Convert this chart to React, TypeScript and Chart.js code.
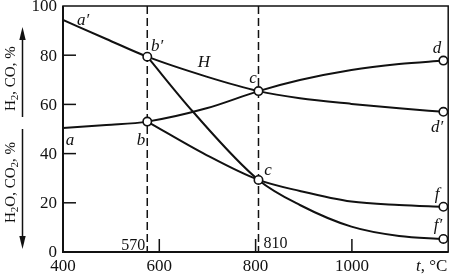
import { useEffect, useRef } from 'react';
import { Chart, registerables } from 'chart.js';
Chart.register(...registerables);

const W = 454, H = 274;
const tMin = 400, tMax = 1200;
const yMin = 0, yMax = 100;
const yTicks = [0, 20, 40, 60, 80, 100];
const xTicks = [400, 600, 800, 1000];

// a'–b'–c–d' (H curve)
const hT = [400, 490, 575, 698, 806, 892, 999, 1098, 1190];
const hV = [94.3, 86.6, 79.4, 71.3, 65.4, 62.5, 60.2, 58.4, 57.0];
// a–b–c–d
const aT = [400, 490, 575, 698, 806, 892, 999, 1098, 1190];
const aV = [50.4, 51.6, 53.0, 58.4, 65.4, 69.9, 74.0, 76.4, 77.8];
// b'–c–f'
const bpT = [575, 670, 806, 892, 999, 1098, 1190];
const bpV = [79.4, 57.0, 29.3, 19.1, 10.3, 6.5, 5.3];
// b–c–f
const bT = [575, 698, 806, 892, 999, 1098, 1190];
const bV = [53.0, 39.4, 29.3, 24.8, 20.5, 19.1, 18.4];

// marked points
const markT = [575, 575, 806, 806, 1190, 1190, 1190, 1190];
const markV = [79.4, 53.0, 65.4, 29.3, 77.8, 57.0, 18.4, 5.3];

// vertical guides
const guideT = [575, 806];
const guideLabels = ['570', '810'];

const INK = '#111';
const SERIF = "'Liberation Serif', 'DejaVu Serif', serif";

const pts = (t: number[], v: number[]) => t.map((x, i) => ({ x, y: v[i] }));

const lineDs = (t: number[], v: number[]) => ({
  data: pts(t, v),
  showLine: true,
  borderColor: INK,
  borderWidth: 2,
  pointRadius: 0,
  pointHoverRadius: 0,
  tension: 0.4,
  cubicInterpolationMode: 'monotone' as const,
  fill: false,
});

function drawSubText(ctx: CanvasRenderingContext2D, parts: [string, boolean][], size: number) {
  let x = 0;
  for (const [s, sub] of parts) {
    const fs = sub ? Math.round(size * 0.7) : size;
    ctx.font = `${fs}px ${SERIF}`;
    ctx.fillText(s, x, sub ? 3 : 0);
    x += ctx.measureText(s).width;
  }
}

const deco = {
  id: 'deco',
  beforeDatasetsDraw(chart: any) {
    const { ctx, chartArea: a, scales } = chart;
    const x = scales.x;
    ctx.save();
    ctx.strokeStyle = INK;
    ctx.lineWidth = 1.5;
    ctx.setLineDash([8, 4]);
    for (const t of guideT) {
      const px = x.getPixelForValue(t);
      ctx.beginPath();
      ctx.moveTo(px, a.top);
      ctx.lineTo(px, a.bottom);
      ctx.stroke();
    }
    ctx.restore();
  },
  afterDatasetsDraw(chart: any) {
    const { ctx, chartArea: a, scales } = chart;
    const x = scales.x, y = scales.y;
    ctx.save();
    ctx.strokeStyle = INK;
    ctx.fillStyle = INK;
    ctx.setLineDash([]);
    // frame
    ctx.lineWidth = 1.5;
    ctx.strokeRect(a.left, a.top, a.right - a.left, a.bottom - a.top);
    ctx.lineWidth = 2;
    ctx.beginPath();
    ctx.moveTo(a.left, a.top);
    ctx.lineTo(a.left, a.bottom);
    ctx.lineTo(a.right, a.bottom);
    ctx.stroke();
    // inner ticks
    ctx.lineWidth = 1.5;
    for (const v of yTicks) {
      if (v === yMin || v === yMax) continue;
      const py = y.getPixelForValue(v);
      ctx.beginPath();
      ctx.moveTo(a.left, py);
      ctx.lineTo(a.left + 13, py);
      ctx.stroke();
    }
    for (const t of xTicks) {
      if (t === tMin) continue;
      const px = x.getPixelForValue(t);
      ctx.beginPath();
      ctx.moveTo(px, a.bottom);
      ctx.lineTo(px, a.bottom - 13);
      ctx.stroke();
    }
    // tick labels
    ctx.font = `17px ${SERIF}`;
    ctx.textAlign = 'right';
    ctx.textBaseline = 'middle';
    for (const v of yTicks) {
      ctx.fillText(String(v), a.left - 6, y.getPixelForValue(v) + 1);
    }
    ctx.textAlign = 'center';
    ctx.textBaseline = 'alphabetic';
    for (const t of xTicks) {
      ctx.fillText(String(t), x.getPixelForValue(t), 271);
    }
    // axis unit label "t, °C"
    ctx.textAlign = 'left';
    ctx.font = `italic 17px ${SERIF}`;
    ctx.fillText('t', 416, 271);
    const tw = ctx.measureText('t').width;
    ctx.font = `17px ${SERIF}`;
    ctx.fillText(', °C', 416 + tw, 271);

    // guide labels
    ctx.font = `16px ${SERIF}`;
    ctx.textAlign = 'right';
    ctx.fillText(guideLabels[0], x.getPixelForValue(guideT[0]) - 2, 250);
    ctx.textAlign = 'left';
    ctx.fillText(guideLabels[1], x.getPixelForValue(guideT[1]) + 5, 248);

    // curve letters
    ctx.font = `italic 17px ${SERIF}`;
    ctx.textAlign = 'center';
    ctx.textBaseline = 'middle';
    const letters: [string, number, number][] = [
      ["a′", 83, 21],
      ["b′", 157, 47],
      ['H', 204, 63],
      ['c', 253, 79],
      ['c', 268, 171],
      ['a', 70, 141],
      ['b', 141, 141],
      ['d', 437, 49],
      ["d′", 437, 128],
      ['f', 437, 195],
      ["f′", 438, 226],
    ];
    for (const [s, lx, ly] of letters) ctx.fillText(s, lx, ly);

    // y-axis titles with arrows
    ctx.lineWidth = 1.5;
    const ax = 22.5;
    const arrow = (y0: number, y1: number) => {
      ctx.beginPath();
      ctx.moveTo(ax, y0);
      ctx.lineTo(ax, y1 + (y1 < y0 ? 8 : -8));
      ctx.stroke();
      const dir = y1 < y0 ? 1 : -1;
      ctx.beginPath();
      ctx.moveTo(ax, y1);
      ctx.lineTo(ax - 3.2, y1 + dir * 13);
      ctx.lineTo(ax + 3.2, y1 + dir * 13);
      ctx.closePath();
      ctx.fill();
    };
    arrow(117, 27);
    arrow(129, 249);

    ctx.textAlign = 'left';
    ctx.textBaseline = 'alphabetic';
    ctx.save();
    ctx.translate(15, 111);
    ctx.rotate(-Math.PI / 2);
    drawSubText(ctx, [['H', false], ['2', true], [', CO, %', false]], 15);
    ctx.restore();
    ctx.save();
    ctx.translate(15, 223);
    ctx.rotate(-Math.PI / 2);
    drawSubText(ctx, [['H', false], ['2', true], ['O, CO', false], ['2', true], [', %', false]], 15);
    ctx.restore();

    ctx.restore();
  },
};

export default function App() {
  const ref = useRef<HTMLCanvasElement>(null);
  useEffect(() => {
    const canvas = ref.current;
    if (!canvas) return;
    const chart = new Chart(canvas, {
      type: 'scatter',
      data: {
        datasets: [
          {
            data: pts(markT, markV),
            showLine: false,
            pointRadius: 4.2,
            pointHoverRadius: 4.2,
            pointBorderWidth: 1.6,
            pointBackgroundColor: '#fff',
            pointBorderColor: INK,
          } as any,
          lineDs(hT, hV),
          lineDs(aT, aV),
          lineDs(bpT, bpV),
          lineDs(bT, bV),
        ],
      },
      options: {
        animation: false,
        responsive: false,
        devicePixelRatio: 1,
        events: [],
        layout: { padding: { left: 63, right: 5, top: 6, bottom: 22 } },
        plugins: { legend: { display: false }, tooltip: { enabled: false } },
        scales: {
          x: { type: 'linear', min: tMin, max: tMax, display: false },
          y: { type: 'linear', min: yMin, max: yMax, display: false },
        },
        elements: { line: { borderCapStyle: 'round' } },
      },
      plugins: [deco],
    });
    return () => chart.destroy();
  }, []);
  return (
    <div style={{ position: 'fixed', left: 0, top: 0, width: W, height: H, background: '#fff' }}>
      <canvas ref={ref} width={W} height={H} style={{ width: W, height: H, display: 'block' }} />
    </div>
  );
}
